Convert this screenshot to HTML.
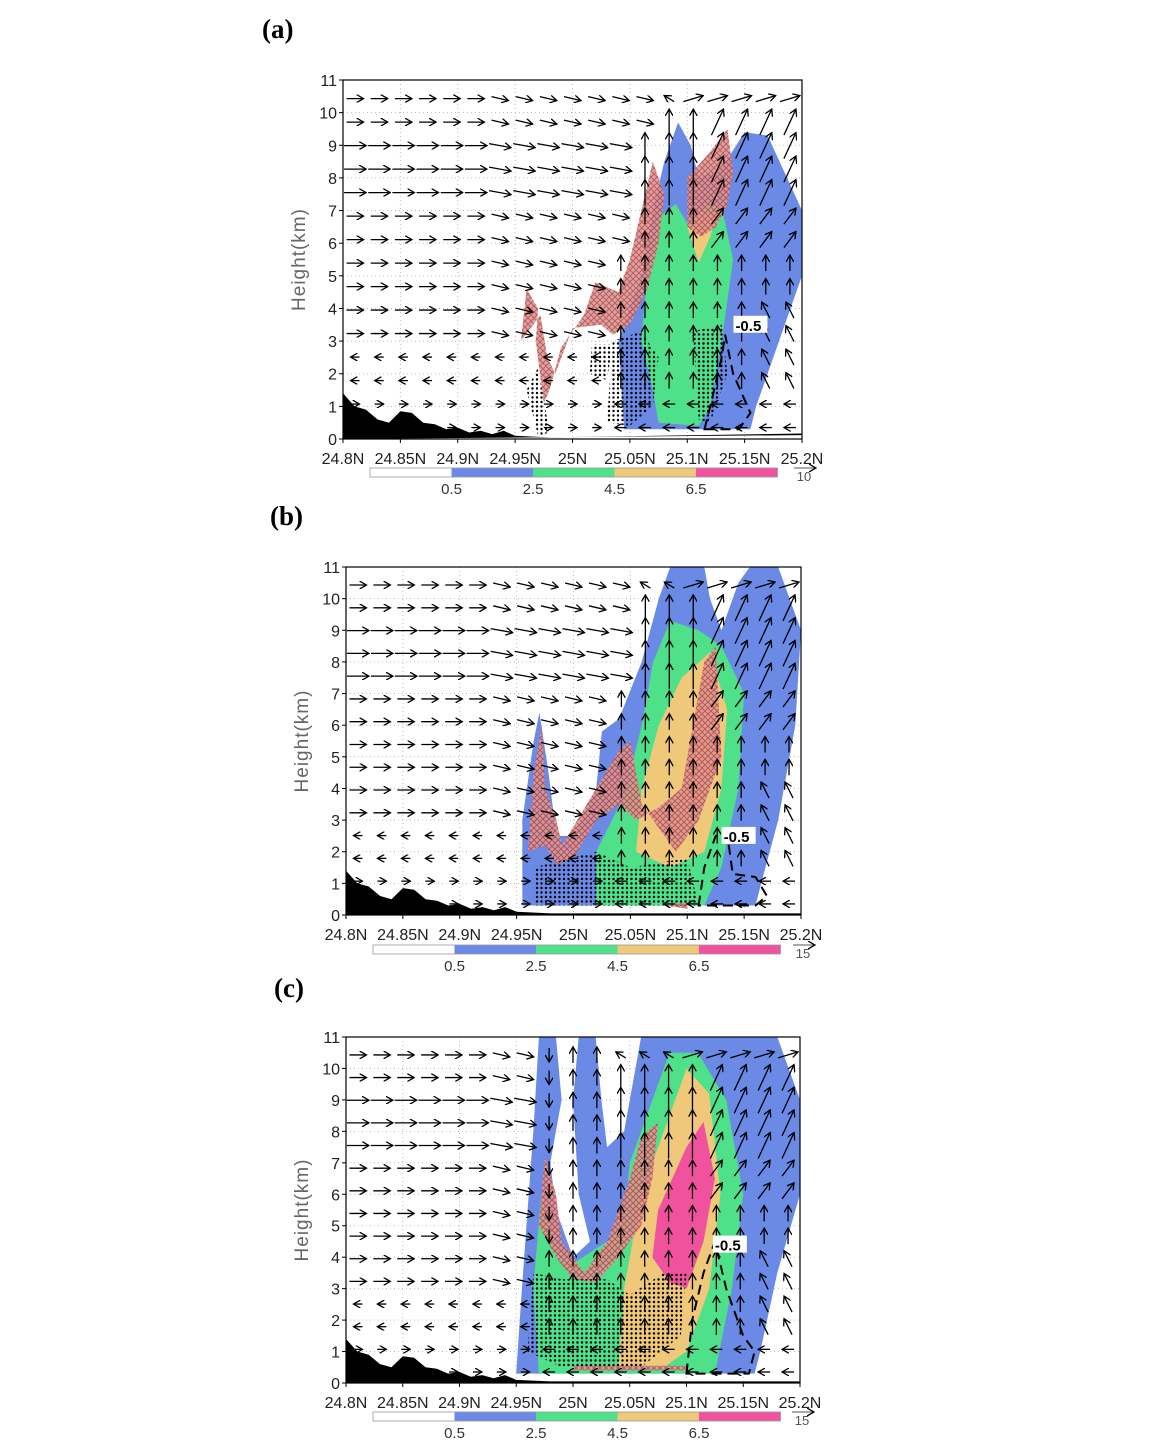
<!DOCTYPE html>
<html><head><meta charset="utf-8">
<style>
html,body{margin:0;padding:0;background:#fff;}
svg{display:block;}
text{font-family:"Liberation Sans",sans-serif;}
.pl{font-family:"Liberation Serif",serif;font-weight:bold;font-size:27px;}
</style></head><body>
<svg id="s" width="1160" height="1440" xmlns="http://www.w3.org/2000/svg">
<defs>
<pattern id="hx" width="6" height="6" patternUnits="userSpaceOnUse">
<rect width="6" height="6" fill="#d79a98"/>
<path d="M0 0L6 6M6 0L0 6" stroke="#b84a4a" stroke-width="1"/>
</pattern>
<pattern id="dt" width="4.5" height="4.5" patternUnits="userSpaceOnUse">
<circle cx="1.5" cy="1.5" r="1.2" fill="#000"/>
</pattern>
<marker id="ah" markerWidth="8" markerHeight="8" refX="7" refY="4" orient="auto" markerUnits="userSpaceOnUse">
<path d="M0 0L7 4L0 8" fill="none" stroke="#000" stroke-width="1.3"/>
</marker>
</defs>
<text class="pl" x="262" y="38">(a)</text>
<text class="pl" x="270" y="525">(b)</text>
<text class="pl" x="274" y="997">(c)</text>
</svg>
<script>
var S=document.getElementById('s'),NS='http://www.w3.org/2000/svg';
function el(t,a,txt){var e=document.createElementNS(NS,t);for(var k in a)e.setAttribute(k,a[k]);if(txt!=null)e.textContent=txt;S.appendChild(e);return e;}
var P=[
{x0:343,x1:802,y0:80,y1:439,cb:468,key:'10',
 blue:[[25.045,0.3],[25.04,3],[25.06,5],[25.07,7],[25.08,8.5],[25.092,9.7],[25.103,9],[25.11,8],[25.13,8.3],[25.15,9.4],[25.17,9.3],[25.2,7],[25.2,5],[25.18,3],[25.16,1],[25.155,0.3]],
 green:[[25.075,0.5],[25.07,1.5],[25.06,3],[25.065,5],[25.075,6.8],[25.09,7.2],[25.105,6.3],[25.115,7.2],[25.13,7.1],[25.14,5.5],[25.13,3],[25.12,1],[25.11,0.4]],
 yellow:[[25.1,6.5],[25.11,5.4],[25.12,6.2],[25.125,6.8],[25.11,7]],
 hatch:[[24.955,3],[24.96,4.6],[24.97,4],[24.968,3],[24.975,1.1],[24.98,1.5],[24.99,2.8],[25.01,3.8],[25.02,4.8],[25.04,4.5],[25.05,5.5],[25.06,7],[25.07,8.5],[25.08,7.5],[25.075,6],[25.065,4.6],[25.05,3.5],[25.035,3.2],[25.025,3.5],[25.0,3.4],[24.985,2],[24.978,2.5],[24.972,3.8]],
 hatch2:[[25.1,6.5],[25.1,8],[25.12,8.8],[25.135,9.5],[25.14,8.2],[25.135,7.2],[25.125,6.5],[25.112,6.2]],
 dots:[[[25.03,0.5],[25.035,3],[25.06,3.3],[25.075,2.5],[25.07,1],[25.05,0.4]],[[25.11,0.6],[25.105,3.3],[25.13,3.5],[25.135,2],[25.12,0.5]],[[24.96,1.5],[24.97,2.2],[24.98,0.2],[24.97,0.1]],[[25.015,2],[25.017,2.9],[25.035,2.9],[25.03,1.8]]],
 dash:[[25.115,0.3],[25.12,1],[25.13,2.5],[25.133,3.2],[25.14,2],[25.15,1.2],[25.155,0.8],[25.145,0.3]],lab:[25.142,3.5]},
{x0:346,x1:801,y0:567,y1:915,cb:945,key:'15',
 blue:[[24.955,0.3],[24.955,3],[24.965,5.5],[24.97,6.4],[24.978,4.5],[24.985,2.5],[25.0,2.5],[25.02,4],[25.025,5.8],[25.04,6.2],[25.06,8],[25.075,10],[25.085,11],[25.115,11],[25.12,10],[25.13,9],[25.145,10.5],[25.155,11],[25.18,11],[25.2,9],[25.195,6],[25.18,3],[25.165,1],[25.16,0.3]],
 green:[[25.02,0.3],[25.02,2],[25.045,3.8],[25.06,6],[25.07,8],[25.085,9.3],[25.11,9],[25.13,8.5],[25.15,7],[25.145,4],[25.13,1.5],[25.115,0.3]],
 yellow:[[25.055,2],[25.06,4],[25.075,6],[25.095,7.5],[25.12,8.3],[25.135,6.5],[25.13,4],[25.115,2],[25.085,1.5]],
 hatch:[[24.96,2],[24.965,4.5],[24.972,6],[24.975,4],[24.985,3],[24.99,2.2],[25.0,2.8],[25.02,4],[25.04,5.2],[25.05,5.5],[25.06,3.5],[25.09,2],[25.11,3],[25.13,5],[25.125,8.5],[25.115,8],[25.105,6],[25.095,4],[25.075,3.4],[25.055,3],[25.04,3.5],[25.02,3],[25.0,1.8],[24.985,1.6],[24.975,2.2]],
 hatch2:[[25.08,0.3],[25.1,0.4],[25.1,0.2]],
 dots:[[[24.965,0.3],[24.965,1.5],[25.02,2],[25.05,1.5],[25.1,1.8],[25.11,0.3]]],
 dash:[[25.11,0.3],[25.115,1.5],[25.125,2.5],[25.135,2.6],[25.14,1.3],[25.16,1.2],[25.17,0.6],[25.16,0.3]],lab:[25.132,2.5]},
{x0:346,x1:800,y0:1037,y1:1383,cb:1412,key:'15',
 blue:[[24.95,0.3],[24.955,3],[24.965,8],[24.97,11],[24.985,11],[24.99,9],[24.98,7],[24.985,5.5],[25.0,4],[25.015,4.5],[25.005,6],[25.0,9],[25.005,11],[25.02,11],[25.025,9],[25.03,7.5],[25.045,8],[25.05,9],[25.06,11],[25.18,11],[25.2,9],[25.2,6],[25.18,3.5],[25.165,1],[25.16,0.3]],
 green:[[24.97,0.3],[24.965,3],[24.972,6],[24.982,4.5],[25.0,3.8],[25.03,4.5],[25.045,5.2],[25.05,7],[25.07,9],[25.085,10.5],[25.11,10.5],[25.135,9],[25.15,6],[25.14,3],[25.125,0.3]],
 yellow:[[25.04,0.5],[25.045,3],[25.06,6],[25.08,8],[25.1,10],[25.12,9.2],[25.13,6],[25.12,3],[25.1,1],[25.08,0.5]],
 pink:[[25.07,4],[25.075,5.5],[25.1,7.5],[25.115,8.3],[25.125,6.5],[25.115,4.5],[25.1,3],[25.085,3.2]],
 hatch:[[24.97,5],[24.975,7.2],[24.985,6],[24.99,4.5],[25.01,3.5],[25.03,4.5],[25.05,6.5],[25.06,7.8],[25.075,8.3],[25.07,6.5],[25.06,5],[25.04,4],[25.02,3.2],[25.0,3.3],[24.985,4]],
 hatch2:[[25.0,0.4],[25.1,0.4],[25.1,0.55],[25.0,0.55]],
 dots:[[[24.96,1],[24.965,3.5],[24.99,3.3],[25.03,3.3],[25.05,2.8],[25.08,3.5],[25.1,3.5],[25.095,1.5],[25.06,0.5],[24.99,0.5]]],
 dash:[[25.1,0.3],[25.105,2],[25.115,3.5],[25.125,4.5],[25.135,3],[25.15,1.5],[25.16,1],[25.155,0.3],[25.12,0.3]],lab:[25.125,4.4]}
];
var cols={blue:'#6b8ae6',green:'#4fe08a',yellow:'#efc879',pink:'#f0529e'};
P.forEach(function(p,pi){
 function X(l){return p.x0+(l-24.8)/0.4*(p.x1-p.x0);}
 function Y(h){return p.y1-h/11*(p.y1-p.y0);}
 function pts(a){return a.map(function(q){return X(q[0]).toFixed(1)+','+Y(q[1]).toFixed(1);}).join(' ');}
 for(var i=1;i<8;i++){var x=X(24.8+i*0.05);el('line',{x1:x,y1:p.y0,x2:x,y2:p.y1,stroke:'#bbb','stroke-dasharray':'1,3'});}
 for(var h=1;h<11;h++){el('line',{x1:p.x0,y1:Y(h),x2:p.x1,y2:Y(h),stroke:'#bbb','stroke-dasharray':'1,3'});}
 ['blue','green','yellow','pink'].forEach(function(k){if(p[k])el('polygon',{points:pts(p[k]),fill:cols[k]});});
 el('polygon',{points:pts(p.hatch),fill:'url(#hx)',opacity:0.9});
 el('polygon',{points:pts(p.hatch2),fill:'url(#hx)',opacity:0.9});
 p.dots.forEach(function(d){el('polygon',{points:pts(d),fill:'url(#dt)'});});
 el('polygon',{points:pts(p.dash),fill:'none',stroke:'#000','stroke-width':2,'stroke-dasharray':'10,6'});
 var t=[[24.8,0],[24.8,1.4],[24.81,1.0],[24.82,0.9],[24.83,0.6],[24.84,0.5],[24.85,0.85],[24.86,0.8],[24.87,0.5],[24.88,0.45],[24.89,0.3],[24.9,0.35],[24.91,0.2],[24.92,0.25],[24.93,0.15],[24.94,0.25],[24.95,0.1],[24.98,0.05],[25.2,0.05],[25.2,0]];
 if(pi==0)t=t.map(function(q){return [q[0],q[1]+(q[0]>25.0?0.12:0)];});
 el('polygon',{points:pts(t),fill:'#000'});
 var nc=19,nr=15;
 for(var c=0;c<nc;c++)for(var r=0;r<nr;r++){
  var lat=24.8+(c+0.5)*0.4/nc, hh=0.35+r*0.72; if(hh>10.9)continue;
  var u,w;
  var bnd=(pi==0?25.04:(pi==1?25.03:24.96));
  if(pi==2&&lat>24.96&&lat<25.04&&hh>4.5){u=0;w=(lat<25.0?14:-16);}
  else if(lat<bnd+(hh>5?(hh-5)*0.005:0)){
   if(hh>10.5){u=-10;w=0;} else if(hh>3.2){u=(hh>7.5&&hh<9?22:17);w=(lat>24.93?4:0);} else if(hh>1.5){u=-9;w=0;} else {u=9;w=0;}
  } else {
   u=(hh>6&&lat>25.12)?12:(lat>25.15&&hh<4?-8:0); w=-(hh>7?26:16);
   if(hh>10.3){u=(lat>25.1?20:-10);w=-6;}
   if(hh<1.2){u=-12;w=0;}
  }
  var x=X(lat),y=Y(hh);
  el('line',{x1:x-u/2,y1:y-w/2,x2:x+u/2,y2:y+w/2,stroke:'#000','stroke-width':1.3,'marker-end':'url(#ah)'});
 }
 var lx=X(p.lab[0]),ly=Y(p.lab[1]);
 el('rect',{x:lx-2,y:ly-9,width:34,height:17,fill:'#fff'});
 el('text',{x:lx,y:ly+6,'font-size':15,'font-weight':'bold'},'-0.5');
 el('rect',{x:p.x0,y:p.y0,width:p.x1-p.x0,height:p.y1-p.y0,fill:'none',stroke:'#000','stroke-width':1.2});
 for(var h=0;h<=11;h++){el('line',{x1:p.x0-4,y1:Y(h),x2:p.x0,y2:Y(h),stroke:'#000'});el('text',{x:p.x0-6,y:Y(h)+6,'font-size':16,'text-anchor':'end',fill:'#222'},''+h);}
 var xl=['24.8N','24.85N','24.9N','24.95N','25N','25.05N','25.1N','25.15N','25.2N'];
 xl.forEach(function(s,i){var x=X(24.8+i*0.05);el('line',{x1:x,y1:p.y1,x2:x,y2:p.y1+4,stroke:'#000'});el('text',{x:x,y:p.y1+25,'font-size':16,'text-anchor':'middle',fill:'#222'},s);});
 var cy=(p.y0+p.y1)/2;
 el('text',{x:0,y:0,'font-size':19,'text-anchor':'middle',fill:'#666','letter-spacing':'1',transform:'translate('+(p.x0-38)+','+cy+') rotate(-90)'},'Height(km)');
 var cx0=p.x0+27,seg=81.5,cc=['#fff','#6b8ae6','#4fe08a','#efc879','#f0529e'];
 for(var i=0;i<5;i++)el('rect',{x:cx0+i*seg,y:p.cb,width:seg,height:9,fill:cc[i]});
 el('rect',{x:cx0,y:p.cb,width:seg*5,height:9,fill:'none',stroke:'#999','stroke-width':0.8});
 ['0.5','2.5','4.5','6.5'].forEach(function(s,i){el('text',{x:cx0+(i+1)*seg,y:p.cb+26,'font-size':15,'text-anchor':'middle',fill:'#333'},s);});
 el('line',{x1:p.x1-8,y1:p.cb,x2:p.x1+14,y2:p.cb,stroke:'#555','marker-end':'url(#ah)'});
 el('text',{x:p.x1+2,y:p.cb+13,'font-size':13,'text-anchor':'middle',fill:'#555'},p.key);
});
</script>
</body></html>
